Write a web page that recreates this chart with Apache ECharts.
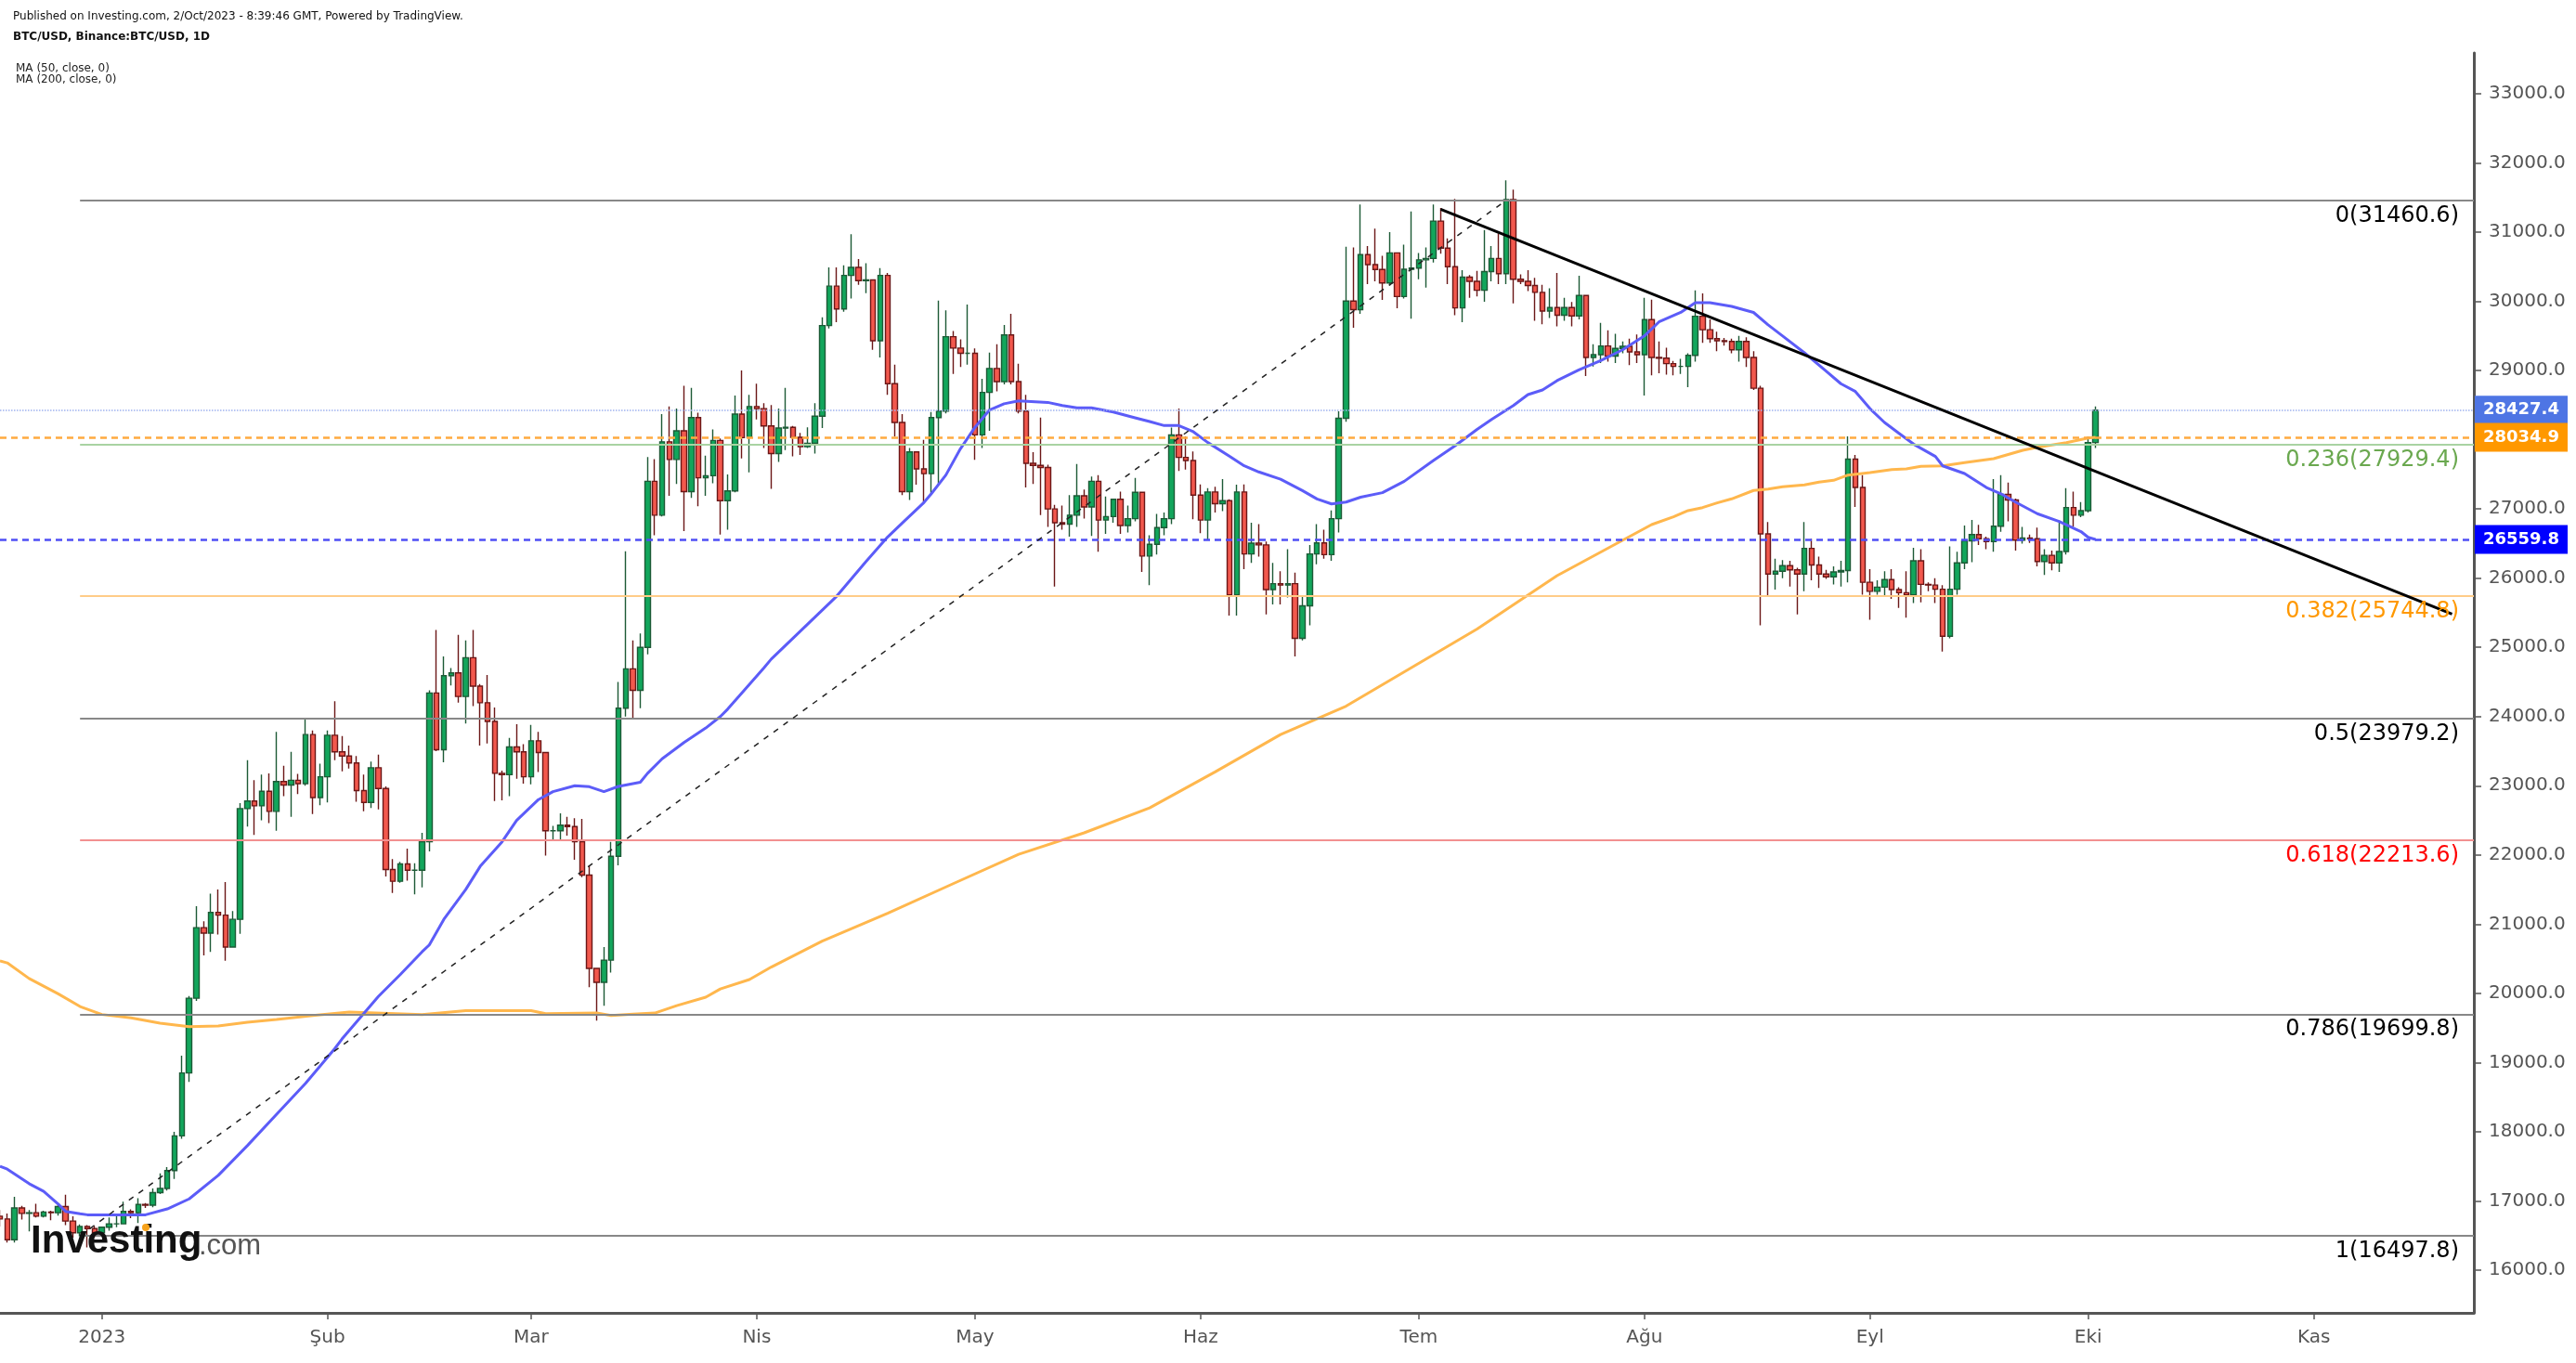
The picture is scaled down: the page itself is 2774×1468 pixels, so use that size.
<!DOCTYPE html>
<html><head><meta charset="utf-8">
<script src="https://cdn.jsdelivr.net/npm/echarts@6/dist/echarts.min.js"></script>
<style>html,body{margin:0;padding:0;background:#fff}#c{width:2774px;height:1468px}</style>
</head><body><div id="c"></div>
<script>
// ---------- DATA ----------
// daily rows: [open, high, low, close]
const dec2022 = [[16780,16870,16630,16740],[16740,16820,16400,16440],[16440,17060,16400,16900],[16900,16930,16730,16820],[16820,16870,16560,16830],[16830,16960,16760,16780],[16780,16860,16760,16840],[16840,16860,16720,16830],[16830,16940,16790,16920],[16920,17090,16650,16710],[16710,16780,16470,16540],[16540,16660,16490,16630],[16630,16650,16330,16600],[16600,16640,16470,16540]];
const jan2023 = [[16540,16630,16500,16620],[16620,16760,16570,16670],[16670,16780,16620,16670],[16670,16990,16660,16850],[16850,16880,16750,16830],[16830,17040,16680,16950],[16950,16970,16900,16940],[16940,17180,16910,17120],[17120,17400,17100,17180],[17180,17490,17150,17440],[17440,18000,17320,17940],[17940,19100,17900,18850],[18850,19960,18720,19930],[19930,21260,19890,20950],[20950,21040,20550,20870],[20870,21440,20600,21170],[21170,21500,20850,21130],[21130,21610,20470,20670],[20670,21190,20660,21070],[21070,22750,20860,22670],[22670,23370,22410,22780],[22780,23080,22290,22710],[22710,23160,22500,22920],[22920,23180,22460,22630],[22630,23780,22350,23060],[23060,23290,22850,23010],[23010,23490,22550,23080],[23080,23170,22880,23030],[23030,23960,23000,23740],[23740,23800,22590,22830],[22830,23320,22720,23130]];
const feb2023 = [[23130,23800,22760,23730],[23730,24220,23370,23490],[23490,23720,23210,23430],[23430,23580,23250,23330],[23330,23430,22770,22930],[22930,23160,22630,22760],[22760,23350,22680,23260],[23260,23450,22660,22960],[22960,22990,21690,21790],[21790,21940,21450,21620],[21620,21900,21600,21870],[21870,22090,21630,21780],[21780,21880,21430,21780],[21780,22320,21530,22190],[22190,24380,22050,24340],[24340,25250,23500,23520],[23520,24870,23340,24590],[24590,24700,24450,24630],[24630,25180,24200,24290],[24290,25100,23900,24850],[24850,25250,24150,24440],[24440,24470,23580,24200],[24200,24600,23610,23930],[23930,24130,22780,23180],[23180,23220,22790,23160],[23160,23690,22850,23560],[23560,23890,23100,23490],[23490,23600,23030,23130]];
const mar2023 = [[23130,23880,23020,23650],[23650,23780,23200,23480],[23480,23480,21990,22350],[22350,22420,22200,22350],[22350,22600,22210,22430],[22430,22550,22280,22410],[22410,22530,21930,22190],[22190,22520,21680,21710],[21710,21840,20090,20360],[20360,20370,19605,20160],[20160,20670,19820,20480],[20480,22190,20300,21980],[21980,24500,21850,24120],[24120,26390,24000,24690],[24690,25100,23960,24380],[24380,25200,24120,25000],[25000,27750,24900,27400],[27400,27720,26620,26910],[26910,28370,26890,27970],[27970,28480,27190,27715],[27715,28450,27360,28130],[28130,28780,26680,27250],[27250,28750,27160,28320],[28320,28390,27040,27450],[27450,27770,27190,27480],[27480,28150,27370,27990],[27990,28020,26630,27120],[27120,27500,26700,27260],[27260,28640,27240,28370],[28370,29000,27730,28030],[28030,28650,27530,28480]];
const apr2023 = [[28480,28810,28295,28450],[28450,28530,27880,28200],[28200,28500,27290,27800],[27800,28450,27680,28170],[28170,28750,27850,28180],[28180,28200,27760,28035],[28035,28100,27780,27900],[27900,28180,27880,27950],[27950,28530,27800,28340],[28340,29770,28170,29650],[29650,30490,29610,30220],[30220,30490,29700,29890],[29890,30520,29850,30375],[30375,30970,30040,30490],[30490,30610,30240,30300],[30300,30550,30120,30310],[30310,30320,29300,29430],[29430,30480,29190,30375],[30375,30410,28650,28810],[28810,29085,28050,28250],[28250,28370,27200,27250],[27250,27880,27130,27825],[27825,27830,27350,27580],[27580,28000,27090,27510],[27510,28400,27200,28320],[28320,30010,27340,28415],[28415,29870,28380,29490],[29490,29570,28950,29325],[29325,29450,29050,29250],[29250,29955,29085,29250]];
const may2023 = [[29250,29320,27710,28070],[28070,28880,27880,28685],[28685,29260,28130,29030],[29030,29380,28700,28840],[28840,29660,28800,29515],[29515,29820,28800,28840],[28840,29100,28380,28415],[28415,28650,27310,27660],[27660,27820,27360,27630],[27630,28320,26910,27600],[27600,27640,26740,27000],[27000,27060,25880,26800],[26800,27050,26700,26780],[26780,27200,26600,26910],[26910,27650,26740,27190],[27190,27280,26860,27030],[27030,27470,26610,27400],[27400,27490,26380,26840],[26840,27180,26640,26890],[26890,27150,26800,27140],[27140,27250,26640,26760],[26760,27050,26660,26860],[26860,27450,26820,27240],[27240,27250,26090,26320],[26320,26620,25900,26490],[26490,26930,26340,26730],[26730,26950,26620,26860],[26860,28175,26780,28070],[28070,28450,27550,27745],[27745,28050,27570,27700],[27700,27830,26850,27200]];
const jun2023 = [[27200,27355,26650,26840],[26840,27300,26550,27245],[27245,27320,26950,27075],[27075,27430,26970,27120],[27120,27140,25460,25760],[25760,27350,25460,27245],[27245,27355,26130,26350],[26350,26800,26220,26505],[26505,26780,26310,26480],[26480,26530,25475,25835],[25835,26220,25620,25920],[25920,26100,25620,25900],[25900,26420,25720,25920],[25920,26080,24870,25130],[25130,25750,25100,25600],[25600,26480,25320,26350],[26350,26780,26200,26510],[26510,26700,26280,26340],[26340,26980,26250,26860],[26860,28410,26660,28310],[28310,30790,28260,30005],[30005,30780,29620,29880],[29880,31400,29820,30675],[30675,30800,30250,30530],[30530,31050,30290,30460],[30460,30660,30020,30265],[30265,31000,30230,30700],[30700,30700,29900,30070],[30070,30820,30040,30464],[30464,31300,29750,30480]];
const jul2023 = [[30480,30700,30320,30600],[30600,30780,30200,30620],[30620,31400,30560,31160],[31160,31350,30690,30770],[30770,30910,30250,30500],[30500,31480,29800,29905],[29905,30450,29700,30350],[30350,30380,30050,30290],[30290,30440,30070,30160],[30160,31030,29995,30430],[30430,30800,30290,30620],[30620,30980,30250,30400],[30400,31750,30250,31470],[31470,31615,29970,30320],[30320,30390,30250,30290],[30290,30450,30150,30230],[30230,30340,29720,30130],[30130,30240,29670,29860],[29860,30190,29760,29910],[29910,30410,29640,29800],[29800,30050,29720,29910],[29910,29990,29640,29790],[29790,30370,29740,30085],[30085,30095,28920,29190],[29190,29380,29060,29230],[29230,29690,29110,29355],[29355,29580,29130,29210],[29210,29530,29110,29320],[29320,29420,29250,29350],[29350,29460,29080,29270],[29270,29520,29110,29230]];
const aug2023 = [[29230,30050,28640,29735],[29735,30025,28930,29190],[29190,29420,28960,29180],[29180,29330,28940,29100],[29100,29140,28930,29060],[29060,29170,28950,29060],[29060,29250,28760,29220],[29220,30160,29130,29785],[29785,30115,29400,29590],[29590,29740,29400,29460],[29460,29560,29280,29430],[29430,29470,29360,29420],[29420,29460,29250,29300],[29300,29500,29130,29420],[29420,29480,29050,29190],[29190,29280,28720,28745],[28745,28780,25320,26640],[26640,26810,25730,26060],[26060,26280,25835,26100],[26100,26260,26000,26180],[26180,26250,25880,26120],[26120,26150,25475,26060],[26060,26810,25810,26430],[26430,26570,25970,26190],[26190,26310,25860,26060],[26060,26120,25990,26020],[26020,26170,25910,26090],[26090,26250,25880,26110],[26110,28050,25940,27720],[27720,27780,27030,27310],[27310,27490,25760,25940]];
const sep2023 = [[25940,26130,25400,25810],[25810,25970,25760,25870],[25870,26100,25750,25980],[25980,26130,25700,25835],[25835,25870,25570,25790],[25790,26100,25430,25760],[25760,26440,25640,26250],[26250,26420,25650,25910],[25910,25940,25810,25900],[25900,26000,25640,25840],[25840,25900,24940,25160],[25160,26460,25130,25840],[25840,26380,25760,26220],[26220,26760,26130,26540],[26540,26840,26230,26630],[26630,26770,26480,26570],[26570,26600,26420,26530],[26530,27430,26380,26750],[26750,27490,26670,27210],[27210,27380,26820,27130],[27130,27150,26400,26550],[26550,26740,26500,26580],[26580,26630,26510,26570],[26570,26730,26170,26240],[26240,26420,26045,26330],[26330,26400,26115,26220],[26220,26830,26090,26385],[26385,27300,26340,27020],[27020,27250,26745,26910],[26910,27100,26880,26975]];
const oct2023 = [[26975,28050,26950,27960],[27960,28480,27880,28427.4]];

// moving averages: [date, value]
const ma50 = [['2022-12-18',17500],['2022-12-19',17460],['2022-12-22',17250],['2022-12-24',17140],['2022-12-26',16956],['2022-12-27',16850],['2022-12-29',16815],['2022-12-30',16800],['2023-01-04',16800],['2023-01-07',16800],['2023-01-10',16885],['2023-01-13',17030],['2023-01-17',17370],['2023-01-21',17800],['2023-01-25',18250],['2023-01-29',18700],['2023-02-02',19200],['2023-02-03',19340],['2023-02-08',19955],['2023-02-11',20270],['2023-02-14',20600],['2023-02-15',20700],['2023-02-17',21070],['2023-02-20',21500],['2023-02-22',21835],['2023-02-25',22190],['2023-02-27',22500],['2023-03-02',22800],['2023-03-04',22915],['2023-03-07',23000],['2023-03-09',22986],['2023-03-11',22915],['2023-03-13',22990],['2023-03-16',23050],['2023-03-17',23180],['2023-03-19',23390],['2023-03-22',23625],['2023-03-25',23835],['2023-03-27',24000],['2023-03-28',24106],['2023-03-30',24346],['2023-04-02',24705],['2023-04-03',24830],['2023-04-12',25740],['2023-04-16',26237],['2023-04-19',26595],['2023-04-21',26795],['2023-04-24',27095],['2023-04-25',27220],['2023-04-27',27490],['2023-04-29',27870],['2023-05-01',28180],['2023-05-03',28430],['2023-05-05',28520],['2023-05-07',28563],['2023-05-11',28540],['2023-05-13',28495],['2023-05-15',28460],['2023-05-17',28460],['2023-05-20',28400],['2023-05-23',28318],['2023-05-25',28263],['2023-05-27',28205],['2023-05-29',28205],['2023-05-31',28116],['2023-06-02',27960],['2023-06-05',27760],['2023-06-07',27623],['2023-06-09',27535],['2023-06-12',27430],['2023-06-15',27265],['2023-06-17',27145],['2023-06-19',27073],['2023-06-21',27100],['2023-06-23',27170],['2023-06-26',27235],['2023-06-29',27400],['2023-07-03',27700],['2023-07-06',27915],['2023-07-09',28150],['2023-07-11',28295],['2023-07-14',28495],['2023-07-16',28653],['2023-07-18',28720],['2023-07-20',28855],['2023-07-23',29010],['2023-07-26',29145],['2023-07-29',29300],['2023-08-01',29500],['2023-08-03',29703],['2023-08-06',29840],['2023-08-08',29981],['2023-08-10',29980],['2023-08-13',29927],['2023-08-16',29840],['2023-08-18',29660],['2023-08-20',29500],['2023-08-23',29256],['2023-08-26',28990],['2023-08-28',28810],['2023-08-30',28697],['2023-09-01',28450],['2023-09-03',28250],['2023-09-05',28093],['2023-09-07',27937],['2023-09-10',27758],['2023-09-11',27623],['2023-09-14',27512],['2023-09-17',27310],['2023-09-19',27220],['2023-09-21',27100],['2023-09-24',26932],['2023-09-27',26820],['2023-09-30',26673],['2023-10-01',26590],['2023-10-02',26559.8]];
const ma200 = [['2022-12-18',20470],['2022-12-19',20440],['2022-12-22',20215],['2022-12-26',19993],['2022-12-29',19810],['2023-01-01',19695],['2023-01-05',19645],['2023-01-09',19570],['2023-01-13',19520],['2023-01-17',19530],['2023-01-21',19582],['2023-01-25',19622],['2023-01-30',19680],['2023-02-04',19730],['2023-02-14',19694],['2023-02-20',19750],['2023-03-01',19750],['2023-03-03',19707],['2023-03-10',19717],['2023-03-12',19680],['2023-03-15',19700],['2023-03-18',19716],['2023-03-21',19823],['2023-03-25',19944],['2023-03-27',20064],['2023-03-31',20200],['2023-04-03',20380],['2023-04-10',20755],['2023-04-19',21157],['2023-04-28',21585],['2023-05-07',22010],['2023-05-16',22320],['2023-05-25',22680],['2023-06-03',23200],['2023-06-12',23740],['2023-06-21',24150],['2023-07-09',25265],['2023-07-20',26036],['2023-08-02',26774],['2023-08-05',26886],['2023-08-07',26976],['2023-08-09',27020],['2023-08-11',27087],['2023-08-13',27146],['2023-08-16',27267],['2023-08-18',27288],['2023-08-20',27320],['2023-08-23',27347],['2023-08-25',27387],['2023-08-27',27414],['2023-08-29',27490],['2023-09-01',27526],['2023-09-04',27570],['2023-09-06',27579],['2023-09-08',27615],['2023-09-11',27624],['2023-09-14',27669],['2023-09-18',27727],['2023-09-22',27848],['2023-09-24',27892],['2023-09-28',27959],['2023-10-01',28026],['2023-10-02',28034.9]];

const fibRatios = ['0','0.236','0.382','0.5','0.618','0.786','1'];
const fibValues = [31460.6, 27929.4, 25744.8, 23979.2, 22213.6, 19699.8, 16497.8];
const fibStart = '2022-12-29';

const lastPrice = 28427.4;
const ma200Last = 28034.9;
const ma50Last = 26559.8;

const trendLine = [['2023-07-04', 31330], ['2023-11-20', 25480]];
const fibDiagonal = [['2022-12-29', 16497.8], ['2023-07-13', 31460.6]];

const yTicks = [16000,17000,18000,19000,20000,21000,22000,23000,24000,25000,26000,27000,28000,29000,30000,31000,32000,33000];
const monthLabels = {'2023-01':'2023','2023-02':'Şub','2023-03':'Mar','2023-04':'Nis','2023-05':'May','2023-06':'Haz','2023-07':'Tem','2023-08':'Ağu','2023-09':'Eyl','2023-10':'Eki','2023-11':'Kas'};
const axisStart = [2022, 11, 18];
const axisDays = 341;

// ---------- BUILD ----------
const dates = [];
for (let i = 0; i < axisDays; i++) {
  dates.push(new Date(Date.UTC(axisStart[0], axisStart[1], axisStart[2] + i)).toISOString().slice(0, 10));
}
const rows = [].concat(dec2022, jan2023, feb2023, mar2023, apr2023, may2023, jun2023, jul2023, aug2023, sep2023, oct2023);
const candles = rows.map(r => [r[0], r[3], r[2], r[1]]);

const fibLineColors = ['#888888','#a9d3a2','#ffcc88','#888888','#f29090','#888888','#888888'];
const fibTextColors = ['#000000','#6aa84f','#ff9800','#000000','#ff0000','#000000','#000000'];
const lastDate = dates[dates.length - 1];
const fibMarks = fibValues.map((v, i) => [
  {coord: [fibStart, v], lineStyle: {color: fibLineColors[i], width: 2, type: 'solid'},
   label: {show: true, position: 'insideEndBottom', distance: [16, 5], formatter: fibRatios[i] + '(' + v.toFixed(1) + ')',
           color: fibTextColors[i], fontFamily: 'DejaVu Sans', fontSize: 24}},
  {coord: [lastDate, v]}
]);

function tag(value, lineColor, lineType, lineWidth, bg) {
  return {yAxis: value, lineStyle: {color: lineColor, type: lineType, width: lineWidth},
    label: {show: true, position: 'end', distance: 1, formatter: value.toFixed(1), color: '#ffffff', fontWeight: 'bold',
      fontFamily: 'DejaVu Sans', fontSize: 18, backgroundColor: bg, padding: [7, 9, 6, 9]}};
}
const isMonthStart = (idx, val) => val.slice(8) === '01' && monthLabels[val.slice(0, 7)] !== undefined;

const chart = echarts.init(document.getElementById('c'), null, {renderer: 'canvas'});
chart.setOption({
  animation: false,
  backgroundColor: '#ffffff',
  grid: {left: 0, right: 110, top: 57, bottom: 54, containLabel: false},
  xAxis: {
    type: 'category', data: dates, boundaryGap: false,
    axisLine: {show: true, lineStyle: {color: '#555555', width: 3}},
    axisTick: {show: true, interval: isMonthStart, length: 7, lineStyle: {color: '#555555', width: 1.5}},
    axisLabel: {show: true, interval: isMonthStart, formatter: v => monthLabels[v.slice(0, 7)] || '',
      color: '#555555', fontFamily: 'DejaVu Sans', fontSize: 20, margin: 17},
    splitLine: {show: false}
  },
  yAxis: {
    type: 'value', position: 'right', min: 15383, max: 33590, scale: true,
    axisLine: {show: true, lineStyle: {color: '#555555', width: 3}},
    axisTick: {show: true, customValues: yTicks, length: 8, lineStyle: {color: '#555555', width: 1.5}},
    axisLabel: {show: true, customValues: yTicks, formatter: v => v.toFixed(1), color: '#555555',
      fontFamily: 'DejaVu Sans', fontSize: 20, margin: 16},
    splitLine: {show: false}
  },
  series: [
    {type: 'line', name: 'fib', data: [], z: 1, silent: true, clip: false,
     markLine: {silent: true, symbol: ['none', 'none'], animation: false, data: fibMarks}},
    {type: 'candlestick', name: 'BTC/USD', data: candles, z: 2, barWidth: 6, clip: true,
     itemStyle: {color: '#12a65c', color0: '#f2584d', borderColor: '#1d5a36', borderColor0: '#6b1717', borderWidth: 1.4}},
    {type: 'line', name: 'MA200', data: ma200, z: 3, showSymbol: false, symbol: 'none',
     lineStyle: {color: '#ffb74d', width: 3}},
    {type: 'line', name: 'MA50', data: ma50, z: 3, showSymbol: false, symbol: 'none',
     lineStyle: {color: '#5c5cf8', width: 3}},
    {type: 'line', name: 'overlays', data: [], z: 5, silent: true, clip: false,
     markLine: {silent: true, symbol: ['none', 'none'], animation: false, data: [
       tag(lastPrice, '#9fb3f0', 'dotted', 1.5, '#4e75e4'),
       tag(ma200Last, '#ffaa40', [7, 5], 2.5, '#ff9800'),
       tag(ma50Last, '#4f4ff5', [7, 5], 2.5, '#0000ff'),
       [{coord: trendLine[0], lineStyle: {color: '#000000', width: 3, type: 'solid'}, label: {show: false}}, {coord: trendLine[1]}],
       [{coord: fibDiagonal[0], lineStyle: {color: '#222222', width: 1.5, type: [6, 7]}, label: {show: false}}, {coord: fibDiagonal[1]}]
     ]}}
  ],
  graphic: [
    {type: 'text', left: 14, top: 12, z: 100, style: {text: 'Published on Investing.com, 2/Oct/2023 - 8:39:46 GMT, Powered by TradingView.', font: '12px "DejaVu Sans"', fill: '#111111'}},
    {type: 'text', left: 14, top: 34, z: 100, style: {text: 'BTC/USD, Binance:BTC/USD, 1D', font: 'bold 12px "DejaVu Sans"', fill: '#111111'}},
    {type: 'text', left: 17, top: 68, z: 100, style: {text: 'MA (50, close, 0)', font: '12px "DejaVu Sans"', fill: '#222222'}},
    {type: 'text', left: 17, top: 80, z: 100, style: {text: 'MA (200, close, 0)', font: '12px "DejaVu Sans"', fill: '#222222'}},
    {type: 'text', left: 33, top: 1316, z: 100, style: {text: 'Investing', font: 'bold 42px "Liberation Sans"', fill: '#111111'}},
    {type: 'text', left: 214, top: 1327, z: 100, style: {text: '.com', font: '31px "Liberation Sans"', fill: '#555555'}},
    {type: 'circle', shape: {cx: 157, cy: 1322, r: 4}, z: 101, style: {fill: '#f7a21b'}}
  ]
});
</script></body></html>
